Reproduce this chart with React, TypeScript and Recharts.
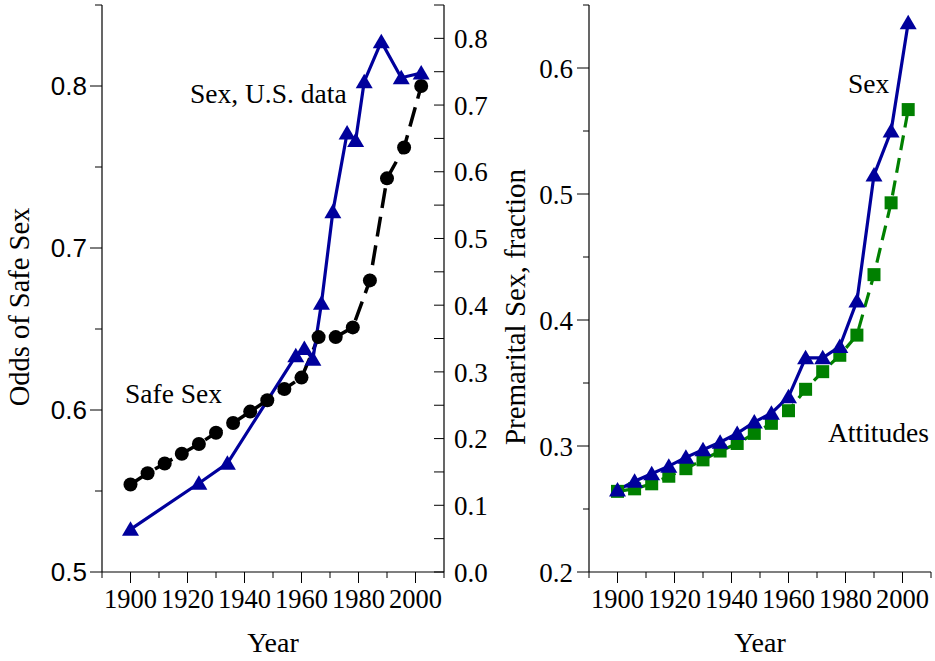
import { LineChart, Line, XAxis, YAxis } from 'recharts';

const SERIF = '"Liberation Serif", "Times New Roman", serif';
const SANS = '"Liberation Sans", Arial, sans-serif';
const BLUE = '#00009C';
const GREEN = '#008000';

// left panel: safe sex odds (left axis) and U.S. premarital sex (right axis)
const safeSexYears = [1900, 1906, 1912, 1918, 1924, 1930, 1936, 1942, 1948, 1954, 1960, 1966, 1972, 1978, 1984, 1990, 1996, 2002];
const safeSexOdds = [0.554, 0.561, 0.567, 0.573, 0.579, 0.586, 0.592, 0.599, 0.606, 0.613, 0.620, 0.645, 0.645, 0.651, 0.680, 0.743, 0.762, 0.800];

const usSexYears = [1900, 1924, 1934, 1958, 1961, 1964, 1967, 1971, 1976, 1979, 1982, 1988, 1995, 2002];
const usSexFraction = [0.064, 0.133, 0.163, 0.324, 0.335, 0.319, 0.403, 0.540, 0.658, 0.647, 0.735, 0.795, 0.741, 0.748];

// right panel: premarital sex and attitudes
const cohortYears = [1900, 1906, 1912, 1918, 1924, 1930, 1936, 1942, 1948, 1954, 1960, 1966, 1972, 1978, 1984, 1990, 1996, 2002];
const premaritalSex = [0.265, 0.272, 0.278, 0.284, 0.291, 0.297, 0.303, 0.310, 0.319, 0.326, 0.339, 0.370, 0.370, 0.379, 0.415, 0.515, 0.550, 0.636];
const attitudes = [0.264, 0.266, 0.270, 0.276, 0.282, 0.289, 0.296, 0.302, 0.310, 0.318, 0.328, 0.345, 0.359, 0.372, 0.388, 0.436, 0.493, 0.567];

// ticks
const yearTicks = [1890, 1900, 1910, 1920, 1930, 1940, 1950, 1960, 1970, 1980, 1990, 2000, 2010];
const oddsTicks = [0.5, 0.55, 0.6, 0.65, 0.7, 0.75, 0.8, 0.85];
const fractionTicks = [0, 0.05, 0.1, 0.15, 0.2, 0.25, 0.3, 0.35, 0.4, 0.45, 0.5, 0.55, 0.6, 0.65, 0.7, 0.75, 0.8, 0.85];
const premaritalTicks = [0.2, 0.25, 0.3, 0.35, 0.4, 0.45, 0.5, 0.55, 0.6, 0.65];

const toRows = (xs: number[], ys: number[]) => xs.map((year, i) => ({ year, value: ys[i] }));

const safeSexData = toRows(safeSexYears, safeSexOdds);
const usSexData = toRows(usSexYears, usSexFraction);
const premaritalData = toRows(cohortYears, premaritalSex);
const attitudesData = toRows(cohortYears, attitudes);

const isTenth = (v: number) => Math.abs(v * 10 - Math.round(v * 10)) < 1e-6;

const YearTick = (props: any) => {
  const { x, y, payload } = props;
  const major = payload.value % 20 === 0;
  return (
    <g>
      <line x1={x} x2={x} y1={y} y2={y + (major ? 11 : 6)} stroke="#000" />
      {major && (
        <text x={x} y={y + 36} textAnchor="middle" style={{ fontFamily: SERIF }} fontSize={26.5} fill="#000">
          {payload.value}
        </text>
      )}
    </g>
  );
};

const OddsTick = (props: any) => {
  const { x, y, payload } = props;
  const major = isTenth(payload.value);
  return (
    <g>
      <line x1={x - (major ? 12 : 7)} x2={x} y1={y} y2={y} stroke="#000" />
      {major && (
        <text x={x - 15} y={y} dy="0.36em" textAnchor="end" style={{ fontFamily: SANS }} fontSize={26} fill="#000">
          {payload.value.toFixed(1)}
        </text>
      )}
    </g>
  );
};

const FractionTick = (props: any) => {
  const { x, y, payload } = props;
  const major = isTenth(payload.value);
  return (
    <g>
      <line x1={x - 10} x2={x} y1={y} y2={y} stroke="#000" />
      {major && (
        <text x={x + 10} y={y} dy="0.36em" textAnchor="start" style={{ fontFamily: SERIF }} fontSize={27} fill="#000">
          {payload.value.toFixed(1)}
        </text>
      )}
    </g>
  );
};

const PremaritalTick = (props: any) => {
  const { x, y, payload } = props;
  const major = isTenth(payload.value);
  return (
    <g>
      <line x1={x - (major ? 12 : 6)} x2={x} y1={y} y2={y} stroke="#000" />
      {major && (
        <text x={x - 16} y={y} dy="0.36em" textAnchor="end" style={{ fontFamily: SERIF }} fontSize={27} fill="#000">
          {payload.value.toFixed(1)}
        </text>
      )}
    </g>
  );
};

const Triangle = (props: any) => {
  const { cx, cy, index } = props;
  if (cx == null || cy == null) return <g key={index} />;
  return <polygon key={index} points={`${cx},${cy - 8} ${cx - 8.5},${cy + 6.5} ${cx + 8.5},${cy + 6.5}`} fill={BLUE} />;
};

const Circle = (props: any) => {
  const { cx, cy, index } = props;
  if (cx == null || cy == null) return <g key={index} />;
  return <circle key={index} cx={cx} cy={cy} r={7} fill="#000" />;
};

const Square = (props: any) => {
  const { cx, cy, index } = props;
  if (cx == null || cy == null) return <g key={index} />;
  return <rect key={index} x={cx - 6.5} y={cy - 6.5} width={13} height={13} fill={GREEN} />;
};

const axisLine = { stroke: '#000', strokeWidth: 1.2 };

export default function App() {
  return (
    <div style={{ position: 'absolute', left: 0, top: 0, width: 935, height: 661, background: '#fff' }}>
      <div style={{ position: 'absolute', left: 0, top: 0 }}>
        <LineChart width={520} height={661} margin={{ top: 5, right: 0, bottom: 0, left: 0 }}>
          <XAxis
            dataKey="year"
            type="number"
            domain={[1890, 2010]}
            ticks={yearTicks}
            allowDataOverflow
            height={89}
            tickSize={0}
            tickMargin={0}
            tickLine={false}
            axisLine={axisLine}
            tick={YearTick}
            interval={0}
          />
          <YAxis
            yAxisId="odds"
            orientation="left"
            type="number"
            domain={[0.5, 0.85]}
            ticks={oddsTicks}
            allowDataOverflow
            width={102}
            tickSize={0}
            tickMargin={0}
            tickLine={false}
            axisLine={axisLine}
            tick={OddsTick}
            interval={0}
          />
          <YAxis
            yAxisId="fraction"
            orientation="right"
            type="number"
            domain={[0, 0.85]}
            ticks={fractionTicks}
            allowDataOverflow
            width={76}
            tickSize={0}
            tickMargin={0}
            tickLine={false}
            axisLine={axisLine}
            tick={FractionTick}
            interval={0}
          />
          <Line
            yAxisId="odds"
            data={safeSexData}
            dataKey="value"
            type="linear"
            stroke="#000"
            strokeWidth={3.5}
            strokeDasharray="20 9"
            dot={Circle}
            activeDot={false}
            isAnimationActive={false}
          />
          <Line
            yAxisId="fraction"
            data={usSexData}
            dataKey="value"
            type="linear"
            stroke={BLUE}
            strokeWidth={3.2}
            dot={Triangle}
            activeDot={false}
            isAnimationActive={false}
          />
        </LineChart>
      </div>
      <div style={{ position: 'absolute', left: 480, top: 0 }}>
        <LineChart width={455} height={661} margin={{ top: 5, right: 4, bottom: 0, left: 0 }}>
          <XAxis
            dataKey="year"
            type="number"
            domain={[1890, 2010]}
            ticks={yearTicks}
            allowDataOverflow
            height={89}
            tickSize={0}
            tickMargin={0}
            tickLine={false}
            axisLine={axisLine}
            tick={YearTick}
            interval={0}
          />
          <YAxis
            type="number"
            domain={[0.2, 0.65]}
            ticks={premaritalTicks}
            allowDataOverflow
            width={109}
            tickSize={0}
            tickMargin={0}
            tickLine={false}
            axisLine={axisLine}
            tick={PremaritalTick}
            interval={0}
          />
          <Line
            data={attitudesData}
            dataKey="value"
            type="linear"
            stroke={GREEN}
            strokeWidth={3.2}
            strokeDasharray="15 8"
            dot={Square}
            activeDot={false}
            isAnimationActive={false}
          />
          <Line
            data={premaritalData}
            dataKey="value"
            type="linear"
            stroke={BLUE}
            strokeWidth={3.2}
            dot={Triangle}
            activeDot={false}
            isAnimationActive={false}
          />
        </LineChart>
      </div>
      <svg
        width={935}
        height={661}
        style={{ position: 'absolute', left: 0, top: 0, pointerEvents: 'none', fontFamily: SERIF }}
        fill="#000"
      >
        <text x={19} y={307} transform="rotate(-90 19 307)" textAnchor="middle" dy="0.35em" fontSize={28.5}>
          Odds of Safe Sex
        </text>
        <text x={515} y={307} transform="rotate(-90 515 307)" textAnchor="middle" dy="0.35em" fontSize={29}>
          Premarital Sex, fraction
        </text>
        <text x={273} y={652} textAnchor="middle" fontSize={28}>Year</text>
        <text x={760} y={652} textAnchor="middle" fontSize={28}>Year</text>
        <text x={125} y={403} fontSize={27.5}>Safe Sex</text>
        <text x={190} y={103} fontSize={27.5}>Sex, U.S. data</text>
        <text x={848} y={93} fontSize={27.5}>Sex</text>
        <text x={828} y={442} fontSize={27.5}>Attitudes</text>
      </svg>
    </div>
  );
}
